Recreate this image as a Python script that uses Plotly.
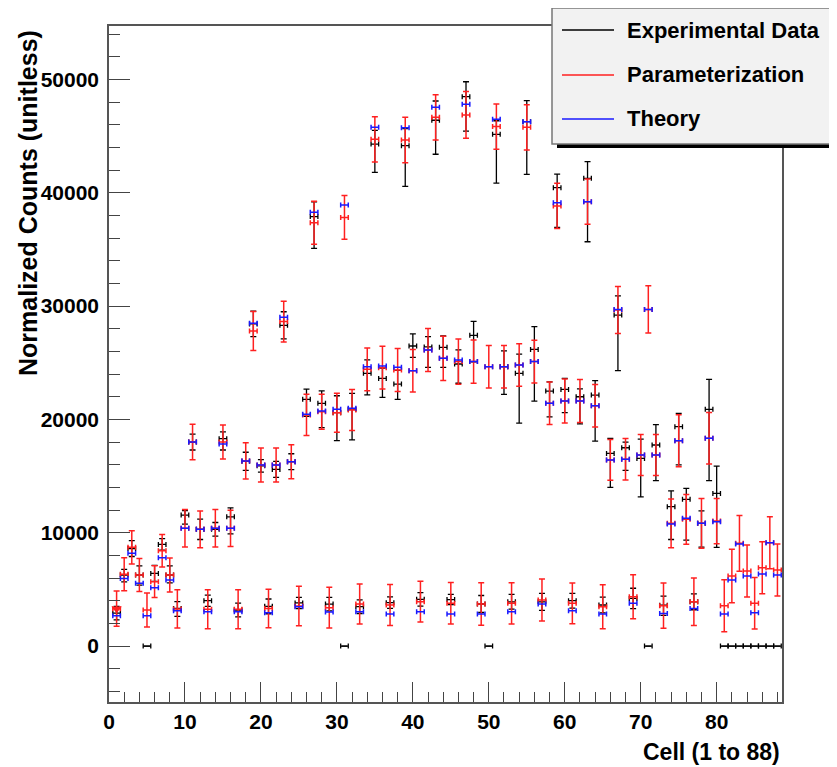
import plotly.graph_objects as go

cells = list(range(1, 89))

exp_vals = [2900, 6270, 8600, 6270, 0, 6410, 8970, 6270, 3320, 11560,
            18000, 10300, 4000, 10300, 18300, 11400, 3180, 16300, 28430, 15900,
            3500, 15590, 28300, 16270, 3800, 21770, 37900, 21420, 3700, 20590,
            0, 20900, 3470, 24070, 44300, 23620, 3830, 23120, 44160, 26480,
            4120, 26400, 46400, 26360, 4100, 24890, 48480, 27420, 3710, 0,
            45160, 24650, 3900, 24070, 46280, 26180, 3900, 22500, 40450, 22650,
            4000, 22000, 41280, 22150, 3620, 17000, 29210, 17500, 4200, 16560,
            0, 17740, 3600, 12300, 19360, 12950, 3900, 10830, 20890, 13470,
            0, 0, 0, 0, 0, 0, 0, 0]
exp_err_hi = [600, 500, 700, 800, 0, 700, 500, 800, 600, 400,
              700, 900, 500, 600, 600, 800, 600, 800, 1130, 550,
              650, 700, 1200, 700, 500, 900, 1300, 1100, 600, 1500,
              0, 1400, 600, 1180, 1200, 900, 500, 1200, 1500, 1060,
              600, 900, 1700, 1000, 450, 1240, 1320, 1240, 750, 0,
              1200, 1400, 650, 1700, 1850, 2000, 750, 820, 1200, 970,
              650, 700, 1470, 1270, 700, 1330, 1700, 500, 900, 1700,
              0, 1800, 800, 1400, 1180, 970, 700, 1100, 2650, 2400,
              0, 0, 0, 0, 0, 0, 0, 0]
exp_err_lo = [600, 600, 700, 900, 0, 700, 500, 700, 700, 800,
              700, 900, 500, 600, 1000, 1500, 600, 800, 1130, 550,
              650, 700, 1200, 700, 500, 1500, 2800, 2150, 600, 2470,
              0, 2700, 600, 1900, 2500, 1680, 500, 1350, 3600, 1000,
              600, 1800, 3000, 1770, 450, 1700, 3030, 2330, 750, 0,
              4300, 2440, 650, 4400, 4650, 4560, 750, 2270, 3500, 2060,
              650, 2400, 5600, 4060, 700, 3000, 4900, 2000, 900, 3400,
              0, 3150, 900, 2900, 3380, 3600, 700, 2100, 6300, 4760,
              0, 0, 0, 0, 0, 0, 0, 0]

par_vals = [3300, 6330, 8710, 6270, 3180, 5680, 8410, 6270, 3270, 10390,
            18000, 10300, 3240, 10390, 18000, 10390, 3240, 16330, 27800, 15975,
            3320, 15975, 28630, 16270, 3530, 20390, 37360, 20680, 3380, 20590,
            37830, 20830, 3710, 24420, 44720, 24570, 3620, 24360, 44660, 24300,
            3910, 26130, 46660, 25390, 3770, 25100, 46870, 25100, 3710, 24650,
            45840, 24650, 3770, 24800, 45780, 25100, 4060, 21420, 38840, 21620,
            3770, 21620, 39220, 21210, 3470, 16420, 29660, 16480, 4350, 16860,
            29710, 16860, 3560, 10830, 18120, 11180, 3910, 10830, 18330, 11030,
            3560, 6180, 9060, 6620, 3770, 6910, 9120, 6710]
par_err = [1550, 1450, 1470, 1450, 1500, 1400, 1430, 1500, 1690, 1660,
           1570, 1620, 1720, 1650, 1500, 1600, 1720, 1600, 1720, 1500,
           1700, 1500, 1800, 1500, 1740, 1820, 1900, 1550, 1800, 1720,
           1940, 1800, 1770, 1880, 2000, 1880, 1800, 1900, 2000, 1880,
           1800, 1900, 2000, 1950, 1830, 2000, 2060, 1900, 1880, 1870,
           2000, 1870, 1820, 1870, 2000, 1880, 1850, 1880, 2000, 1940,
           1800, 1900, 2000, 1870, 1940, 1800, 2080, 1830, 1940, 1800,
           2080, 1800, 2000, 2150, 2300, 2200, 2100, 2200, 2270, 2000,
           2300, 2350, 2450, 2300, 2270, 2300, 2300, 2300]

theo_vals = [2680, 5970, 8180, 5530, 2680, 5150, 7800, 5830, 3120, 10390,
             18000, 10300, 3030, 10390, 17830, 10390, 3030, 16330, 28480, 15975,
             2940, 15975, 29010, 16270, 3470, 20450, 38280, 20740, 3000, 20890,
             38920, 20980, 3030, 24650, 45780, 24710, 2820, 24600, 45750, 24300,
             3030, 26130, 47540, 25390, 2820, 25240, 47810, 25100, 2820, 24650,
             46480, 24650, 3030, 24800, 46280, 25100, 3710, 21420, 39130, 21620,
             3120, 21620, 39220, 21210, 2820, 16420, 29710, 16480, 3770, 16860,
             29710, 16860, 2880, 10770, 18120, 11270, 3320, 10830, 18330, 10970,
             2820, 5830, 9000, 6180, 2940, 6360, 9120, 6270]

series_names = ["Experimental Data", "Parameterization", "Theory"]
x_ticks = [0, 10, 20, 30, 40, 50, 60, 70, 80]
x_tick_labels = ["0", "10", "20", "30", "40", "50", "60", "70", "80"]
y_ticks = [0, 10000, 20000, 30000, 40000, 50000]
y_tick_labels = ["0", "10000", "20000", "30000", "40000", "50000"]

half_bin = [0.5] * len(cells)
FONT = "Liberation Sans, Arial, Helvetica, sans-serif"
C_EXP, C_PAR, C_TH = "#000000", "#ff2020", "#1a1aff"

fig = go.Figure()
inv = dict(size=1, color="rgba(0,0,0,0)")

fig.add_trace(go.Scatter(
    x=cells, y=exp_vals, mode="markers", marker=inv, name=series_names[0], showlegend=False,
    error_x=dict(type="data", array=half_bin, color=C_EXP, thickness=1.3, width=2.5),
    error_y=dict(type="data", symmetric=False, array=exp_err_hi, arrayminus=exp_err_lo,
                 color=C_EXP, thickness=1.3, width=3)))
fig.add_trace(go.Scatter(
    x=cells, y=par_vals, mode="markers", marker=inv, name=series_names[1], showlegend=False,
    error_x=dict(type="data", array=half_bin, color=C_PAR, thickness=1.5, width=2.5),
    error_y=dict(type="data", array=par_err, color=C_PAR, thickness=1.5, width=3)))
fig.add_trace(go.Scatter(
    x=cells, y=theo_vals, mode="markers", marker=inv, name=series_names[2], showlegend=False,
    error_x=dict(type="data", array=half_bin, color=C_TH, thickness=1.5, width=2.5)))
fig.add_trace(go.Scatter(
    x=cells[:1], y=par_vals[:1], mode="markers", showlegend=False, hoverinfo="skip",
    marker=dict(symbol="triangle-down", size=9, color=C_PAR)))

axis_common = dict(
    showline=True, linecolor="#555555", linewidth=1.5, mirror=True,
    ticks="inside", tickcolor="#444444", tickwidth=1.2,
    showgrid=False, zeroline=False,
    tickfont=dict(family=FONT, size=21, color="black", weight="bold"),
)
fig.update_xaxes(range=[0, 88.6], tickvals=x_ticks, ticktext=x_tick_labels, ticklen=20,
                 minor=dict(dtick=2, tick0=0, ticks="inside", ticklen=10, tickcolor="#444444", tickwidth=1.2, showgrid=False),
                 **axis_common)
fig.update_yaxes(range=[-4940, 54720], tickvals=y_ticks, ticktext=y_tick_labels, ticklen=21, ticklabelstandoff=4,
                 minor=dict(dtick=2000, tick0=0, ticks="inside", ticklen=11, tickcolor="#444444", tickwidth=1.2, showgrid=False),
                 **axis_common)

# page has an 8px body margin; figure is shrunk so screen coords match the reference
OFF = 8
W, H = 837 - OFF, 767 - OFF
SX0, SX1, SY0, SY1 = 109, 782, 26, 702   # plot frame in screen pixels
L, R, T, B = SX0 - OFF, 837 - SX1, SY0 - OFF, 767 - SY1
pw, ph = SX1 - SX0, SY1 - SY0

def px(xs):
    return (xs - SX0) / pw

def py(ys):
    return (SY1 - ys) / ph

shapes = [
    dict(type="rect", xref="paper", yref="paper", x0=px(557), x1=px(860), y0=py(148), y1=py(12),
         fillcolor="black", line=dict(width=0), layer="above"),
    dict(type="rect", xref="paper", yref="paper", x0=px(552), x1=px(850), y0=py(144), y1=py(8),
         fillcolor="#f2f2f2", line=dict(color="#777777", width=1.5), layer="above"),
]
legend_rows = [(30, C_EXP), (75, C_PAR), (119, C_TH)]
annotations = []
for (yy, col), name in zip(legend_rows, series_names):
    shapes.append(dict(type="line", xref="paper", yref="paper", x0=px(562), x1=px(614),
                       y0=py(yy), y1=py(yy), line=dict(color=col, width=1.3), layer="above"))
    annotations.append(dict(xref="paper", yref="paper", x=px(625), y=py(yy), xanchor="left", yanchor="middle",
                            text=name, showarrow=False,
                            font=dict(family=FONT, size=22, color="black", weight="bold")))

annotations.append(dict(xref="paper", yref="paper", x=1.0, y=py(752), xanchor="right", yanchor="middle",
                        text="Cell (1 to 88)", showarrow=False,
                        font=dict(family=FONT, size=23, color="black", weight="bold")))
annotations.append(dict(xref="paper", yref="paper", x=px(28), y=py(28), xanchor="center", yanchor="top",
                        text="Normalized Counts (unitless)", textangle=-90, showarrow=False,
                        font=dict(family=FONT, size=25, color="black", weight="bold")))

fig.update_layout(
    width=W, height=H, margin=dict(l=L, r=R, t=T, b=B, pad=0, autoexpand=False),
    plot_bgcolor="white", paper_bgcolor="white",
    shapes=shapes, annotations=annotations, showlegend=False,
)

fig.write_html("out.html")
